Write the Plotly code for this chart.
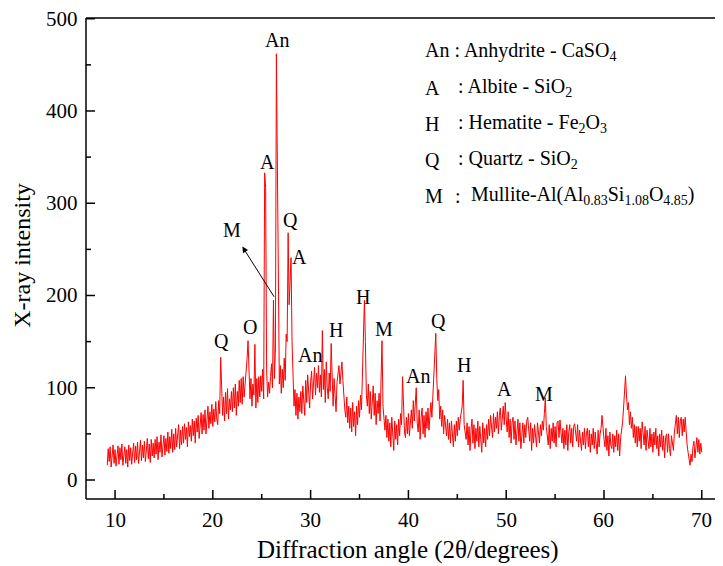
import plotly.graph_objects as go

# Sampling grid of the diffraction scan (degrees 2-theta)
angle_start = 9.2
angle_step = 0.1

# Intensities, one row per degree
intensity = [
    16, 34, 20, 36, 14, 30, 38, 18,                      # 9.2-9.9
    33, 15, 29, 37, 17, 35, 22, 39, 16, 31,              # 10
    36, 18, 33, 14, 38, 21, 35, 17, 32, 40,              # 11
    19, 37, 22, 41, 18, 34, 43, 21, 38, 24,              # 12
    42, 20, 36, 45, 23, 39, 19, 44, 26, 40,              # 13
    24, 44, 28, 47, 22, 41, 30, 49, 25, 43,              # 14
    48, 27, 45, 31, 52, 29, 47, 34, 55, 30,              # 15
    50, 33, 56, 36, 51, 60, 34, 54, 38, 58,              # 16
    40, 61, 44, 57, 36, 63, 47, 59, 42, 66,              # 17
    48, 64, 40, 67, 52, 70, 45, 62, 73, 50,              # 18
    71, 54, 76, 50, 68, 80, 56, 74, 61, 82,              # 19
    58, 77, 63, 85, 66, 60, 86, 72, 133, 92,             # 20
    70, 90, 64, 95, 72, 99, 66, 88, 76, 96,              # 21
    74, 100, 78, 104, 70, 96, 80, 108, 84, 110,          # 22
    82, 112, 90, 104, 114, 131, 151, 118, 88, 110,       # 23
    80, 104, 92, 147, 78, 110, 84, 112, 90, 113,         # 24
    96, 120, 88, 333, 317, 120, 90, 106, 94, 112,        # 25
    126, 100, 195, 110, 142, 462, 354, 166, 104, 124,    # 26
    94, 120, 100, 132, 108, 158, 150, 268, 190, 215,     # 27
    241, 150, 100, 80, 98, 70, 94, 66, 90, 74,           # 28
    96, 72, 102, 80, 70, 108, 84, 114, 90, 78,           # 29
    106, 118, 88, 112, 122, 92, 116, 100, 124, 95,       # 30
    114, 90, 162, 98, 120, 84, 128, 100, 88, 116,        # 31
    96, 148, 108, 80, 110, 90, 74, 106, 118, 124,        # 32
    104, 120, 128, 108, 90, 76, 68, 90, 62, 80,          # 33
    56, 78, 52, 84, 58, 74, 48, 80, 60, 86,              # 34
    68, 92, 76, 112, 140, 195, 150, 92, 80, 104,         # 35
    72, 96, 66, 92, 102, 70, 94, 60, 86, 72,             # 36
    94, 64, 110, 151, 80, 66, 54, 70, 46, 66,            # 37
    42, 62, 36, 68, 48, 32, 64, 44, 60, 38,              # 38
    66, 48, 72, 60, 112, 68, 52, 46, 68, 50,             # 39
    72, 48, 64, 76, 56, 86, 64, 92, 100, 62,             # 40
    52, 76, 44, 68, 78, 50, 70, 46, 74, 56,              # 41
    78, 54, 70, 84, 68, 92, 100, 127, 159, 110,          # 42
    86, 98, 66, 80, 58, 76, 50, 70, 56, 48,              # 43
    66, 44, 62, 40, 64, 46, 36, 60, 42, 64,              # 44
    48, 68, 54, 66, 72, 80, 108, 60, 52, 44,             # 45
    62, 38, 58, 32, 54, 66, 40, 60, 34, 56,              # 46
    42, 64, 36, 58, 44, 30, 62, 40, 56, 36,              # 47
    60, 44, 66, 48, 70, 54, 46, 72, 52, 68,              # 48
    56, 74, 50, 70, 78, 54, 72, 80, 60, 84,              # 49
    66, 52, 74, 46, 66, 40, 62, 68, 44, 64,              # 50
    38, 58, 66, 42, 62, 34, 56, 62, 40, 60,              # 51
    46, 64, 68, 50, 42, 62, 32, 56, 40, 60,              # 52
    44, 36, 62, 46, 40, 60, 48, 64, 54, 72,              # 53
    89, 58, 46, 38, 60, 34, 56, 42, 62, 40,              # 54
    58, 36, 62, 64, 46, 65, 52, 40, 56, 34,              # 55
    54, 38, 60, 32, 52, 60, 40, 56, 36, 58,              # 56
    61, 48, 42, 60, 36, 54, 40, 32, 52, 38,              # 57
    56, 34, 50, 56, 36, 54, 30, 50, 38, 56,              # 58
    34, 52, 40, 28, 54, 36, 50, 56, 70, 54,              # 59
    44, 36, 56, 32, 48, 26, 52, 38, 34, 50,              # 60
    30, 48, 36, 54, 32, 50, 26, 46, 54, 62,              # 61
    78, 96, 113, 92, 76, 84, 60, 74, 56, 68,             # 62
    46, 60, 40, 58, 36, 58, 42, 56, 34, 63,              # 63
    44, 38, 58, 32, 54, 40, 34, 56, 36, 50,              # 64
    30, 52, 38, 56, 34, 48, 26, 50, 36, 54,              # 65
    32, 48, 24, 46, 50, 30, 50, 34, 26, 48,              # 66
    36, 32, 52, 60, 70, 50, 68, 46, 64, 68,              # 67
    48, 66, 52, 68, 44, 38, 30, 24, 16, 28,              # 68
    20, 36, 42, 24, 40, 46, 30, 44, 28, 40,              # 69
    30,                                                  # 70.0
]
angle = [round(angle_start + i * angle_step, 2) for i in range(len(intensity))]

# Axis ticks and tick labels
x_ticks = [10, 20, 30, 40, 50, 60, 70]
x_minor_ticks = [15, 25, 35, 45, 55, 65]
x_tick_labels = ["10", "20", "30", "40", "50", "60", "70"]
y_ticks = [0, 100, 200, 300, 400, 500]
y_minor_ticks = [50, 150, 250, 350, 450]
y_tick_labels = ["0", "100", "200", "300", "400", "500"]

# Peak labels: text, angle, intensity position
peak_text = ["An", "A", "Q", "A", "M", "Q", "O", "An", "H", "H", "M", "An", "Q", "H", "A", "M"]
peak_x = [26.56, 25.54, 27.9, 28.9, 21.96, 20.84, 23.8, 29.94, 32.6, 35.36, 37.5, 40.98, 43.03, 45.7, 49.78, 53.87]
peak_y = [477, 345, 282, 242, 271, 151, 166, 136, 163, 198, 164, 113, 172, 125, 99, 93]

# Arrow from the M reflection to its label
arrow_tail = (26.36, 197)
arrow_head = (23.02, 253)

# Phase key
key_letters = ["An : Anhydrite - CaSO<sub>4</sub>", "A", "H", "Q", "M"]
key_rest = ["", ": Albite - SiO<sub>2</sub>", ": Hematite - Fe<sub>2</sub>O<sub>3</sub>",
            ": Quartz - SiO<sub>2</sub>", ":"]
key_mullite = "Mullite-Al(Al<sub>0.83</sub>Si<sub>1.08</sub>O<sub>4.85</sub>)"
key_y = [465, 425, 386, 347, 308]

FONT = "Liberation Serif, Times New Roman, serif"
AXIS_W = 1.5

fig = go.Figure()
fig.add_trace(go.Scatter(x=angle, y=intensity, mode="lines",
                         line=dict(color="#ff0000", width=1), showlegend=False))

ann = []
for t, x, y in zip(peak_text, peak_x, peak_y):
    ann.append(dict(x=x, y=y, text=t, showarrow=False, xref="x", yref="y",
                    font=dict(family=FONT, size=20, color="black")))

ann.append(dict(x=arrow_head[0], y=arrow_head[1], ax=arrow_tail[0], ay=arrow_tail[1],
                xref="x", yref="y", axref="x", ayref="y", text="", showarrow=True,
                arrowhead=2, arrowsize=1.2, arrowwidth=1, arrowcolor="black"))

for i, (l, r, y) in enumerate(zip(key_letters, key_rest, key_y)):
    ann.append(dict(x=41.49, y=y, text=l, showarrow=False, xanchor="left", xref="x", yref="y",
                    font=dict(family=FONT, size=20, color="black")))
    if r:
        xr = 44.6 if i == 4 else 44.9
        ann.append(dict(x=xr, y=y, text=r, showarrow=False, xanchor="left", xref="x", yref="y",
                        font=dict(family=FONT, size=20, color="black")))
ann.append(dict(x=46.2, y=key_y[4], text=key_mullite, showarrow=False, xanchor="left",
                xref="x", yref="y", font=dict(family=FONT, size=20, color="black")))

# axis tick labels and titles as text placed against the axes
for v, t in zip(x_ticks, x_tick_labels):
    ann.append(dict(x=v, y=0, xref="x", yref="paper", text=t, showarrow=False,
                    yanchor="middle", yshift=-21, font=dict(family=FONT, size=21, color="black")))
for v, t in zip(y_ticks, y_tick_labels):
    ann.append(dict(x=0, y=v, xref="paper", yref="y", text=t, showarrow=False,
                    xanchor="right", xshift=-6, font=dict(family=FONT, size=21, color="black")))
ann.append(dict(x=0.505, y=0, xref="paper", yref="paper", text="Diffraction angle (2θ/degrees)",
                showarrow=False, yanchor="middle", yshift=-51,
                font=dict(family=FONT, size=25, color="black")))
ann.append(dict(x=0, y=243, xref="paper", yref="y", text="X-ray intensity", textangle=-90,
                showarrow=False, xanchor="center", xshift=-64,
                font=dict(family=FONT, size=24, color="black")))

# axis frame (left, bottom, top) and inside ticks drawn as shapes
line_style = dict(color="black", width=AXIS_W)
shapes = [
    dict(type="line", xref="paper", yref="paper", x0=0, x1=0, y0=0, y1=1, line=line_style, layer="above"),
    dict(type="line", xref="paper", yref="paper", x0=0, x1=1, y0=0, y1=0, line=line_style, layer="above"),
    dict(type="line", xref="paper", yref="paper", x0=0, x1=1, y0=1, y1=1, line=line_style, layer="above"),
]
for v in x_ticks + x_minor_ticks:
    ln = 9 if v in x_ticks else 5
    shapes.append(dict(type="line", xref="x", yref="paper", ysizemode="pixel", yanchor=0,
                       x0=v, x1=v, y0=0, y1=ln, line=line_style, layer="above"))
for v in y_ticks + y_minor_ticks:
    ln = 9 if v in y_ticks else 5
    shapes.append(dict(type="line", xref="paper", yref="y", xsizemode="pixel", xanchor=0,
                       x0=0, x1=ln, y0=v, y1=v, line=line_style, layer="above"))

# page body adds an 8px offset: margins are shifted by 8px to compensate
fig.update_layout(
    width=723, height=566,
    margin=dict(l=78, r=8, t=10, b=75),
    plot_bgcolor="white", paper_bgcolor="white",
    font=dict(family=FONT, size=21, color="black"),
    annotations=ann,
    shapes=shapes,
    xaxis=dict(range=[7.03, 72.17], showgrid=False, zeroline=False, showline=False,
               ticks="", showticklabels=False, automargin=False),
    yaxis=dict(range=[-20.6, 500.8], showgrid=False, zeroline=False, showline=False,
               ticks="", showticklabels=False, automargin=False),
)

fig.write_html("out.html")
